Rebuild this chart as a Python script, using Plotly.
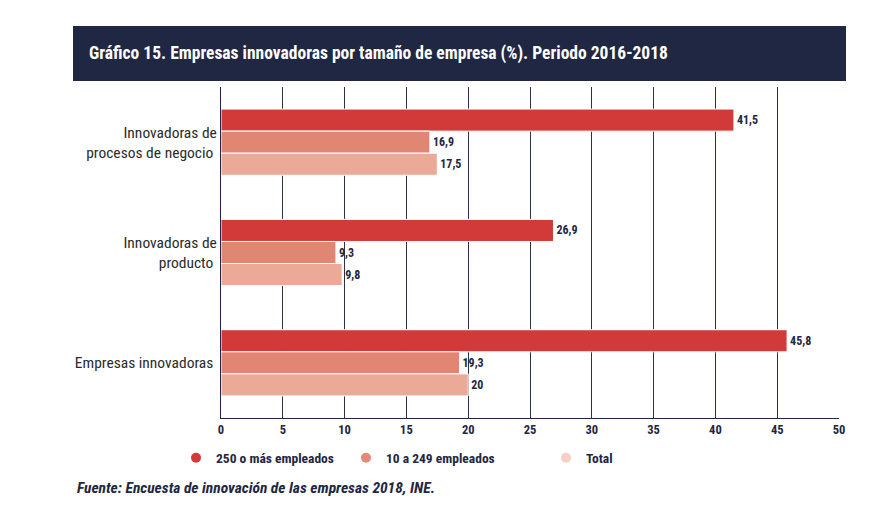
import plotly.graph_objects as go

# Datos (porcentaje de empresas)
categorias = ["Innovadoras de<br>procesos de negocio", "Innovadoras de<br>producto", "Empresas innovadoras"]
grandes = [41.5, 26.9, 45.8]
pymes = [16.9, 9.3, 19.3]
total = [17.5, 9.8, 20]
series = ["250 o más empleados", "10 a 249 empleados", "Total"]
ticks_x = [0, 5, 10, 15, 20, 25, 30, 35, 40, 45, 50]

colores_barra = ["#D23A3A", "#E08672", "#EBA998"]
colores_leyenda = ["#D23A3A", "#E38A78", "#F5D0C3"]
NAVY = "#1F2742"
FONT = "Roboto Condensed, Liberation Sans Narrow, Arial Narrow, sans-serif"

# la pagina deja 8 px de margen arriba y a la izquierda
OFF = 8
W, H = 874 - OFF, 522 - OFF
L, T = 221 - OFF, 87 - OFF
BOTTOM = 418 - OFF
R, B = W - (839 - OFF), H - BOTTOM
pw, ph = W - L - R, H - T - B


def px_x(p):
    return (p - OFF - L) / pw


def px_y(p):
    return (BOTTOM - (p - OFF)) / ph


def etiqueta(v):
    return f"{v:g}".replace(".", ",")


fig = go.Figure()
for nombre, vals, col in zip(series, [grandes, pymes, total], colores_barra):
    fig.add_trace(go.Bar(
        y=categorias, x=vals, orientation="h", name=nombre,
        marker=dict(color=col, line=dict(color="white", width=1)),
        text=[etiqueta(v) for v in vals], textposition="outside",
        textfont=dict(family=FONT, size=12, color=NAVY, weight="bold"),
        cliponaxis=False, showlegend=False,
    ))

# leyenda con circulos (una leyenda por entrada para colocarlas como en el original)
leg_x = [196, 366, 566]
for i, (nombre, col) in enumerate(zip(series, colores_leyenda)):
    lg = "legend" if i == 0 else f"legend{i + 1}"
    fig.add_trace(go.Scatter(
        x=[None], y=[None], mode="markers", name=nombre, legend=lg,
        marker=dict(symbol="circle", size=10, color=col),
        showlegend=True,
    ))

leg_style = dict(
    orientation="h", yanchor="middle", xanchor="left",
    font=dict(family=FONT, size=13.5, color=NAVY, weight="bold"),
    bgcolor="rgba(0,0,0,0)", itemwidth=30, tracegroupgap=0,
)
fig.update_layout(
    legend=dict(x=px_x(leg_x[0] - 20), y=px_y(458), **leg_style),
    legend2=dict(x=px_x(leg_x[1] - 20), y=px_y(458), **leg_style),
    legend3=dict(x=px_x(leg_x[2] - 20), y=px_y(458), **leg_style),
)

fig.update_layout(
    width=W, height=H,
    margin=dict(l=L, r=R, t=T, b=B, pad=0),
    paper_bgcolor="white", plot_bgcolor="white",
    barmode="group", bargap=0.4, bargroupgap=0,
    font=dict(family=FONT, color=NAVY),
    xaxis=dict(
        range=[0, 50], tickvals=ticks_x, showgrid=True, gridcolor="#2A3148",
        gridwidth=1, zeroline=False, showline=True, linecolor=NAVY, linewidth=1,
        ticks="", tickfont=dict(family=FONT, size=12.5, color=NAVY, weight="bold"),
        fixedrange=True,
    ),
    yaxis=dict(
        autorange="reversed", showgrid=False, showline=True, linecolor=NAVY,
        linewidth=1, ticks="", ticksuffix=" ",
        tickfont=dict(family=FONT, size=15.5, color="#2B2B2B"),
        fixedrange=True,
    ),
    shapes=[dict(
        type="rect", xref="paper", yref="paper",
        x0=px_x(73), x1=px_x(846), y0=px_y(81), y1=px_y(26),
        fillcolor="#1F2742", line=dict(width=0), layer="below",
    )],
    annotations=[
        dict(
            text="Gráfico 15. Empresas innovadoras por tamaño de empresa (%). Periodo 2016-2018",
            xref="paper", yref="paper", x=px_x(87), y=px_y(53.5),
            xanchor="left", yanchor="middle", showarrow=False,
            font=dict(family=FONT, size=17.5, color="white", weight="bold"),
        ),
        dict(
            text="<b><i>Fuente: Encuesta de innovación de las empresas 2018, INE.</i></b>",
            xref="paper", yref="paper", x=px_x(75), y=px_y(488),
            xanchor="left", yanchor="middle", showarrow=False,
            font=dict(family=FONT, size=15.5, color=NAVY),
        ),
    ],
)

fig.write_html("out.html")
